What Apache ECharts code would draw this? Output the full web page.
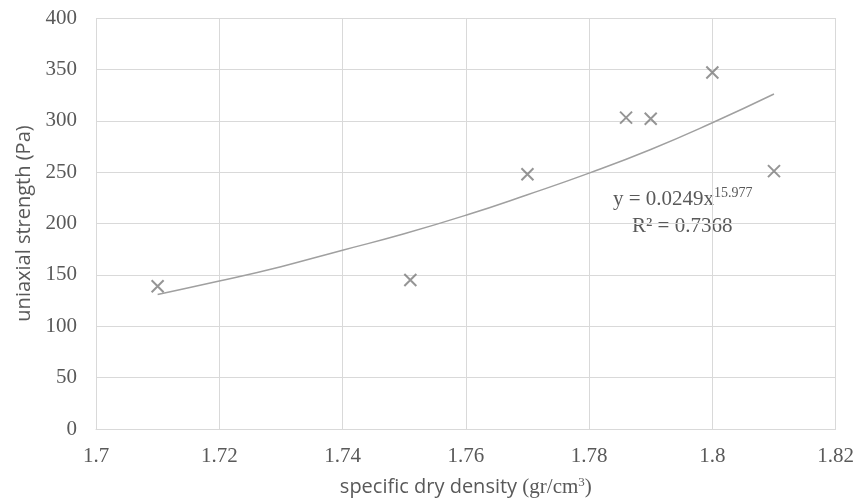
<!DOCTYPE html>
<html>
<head>
<meta charset="utf-8">
<script src="https://cdn.jsdelivr.net/npm/echarts@6/dist/echarts.min.js"></script>
<style>html,body{margin:0;padding:0;background:#fff}#c{width:857px;height:504px}</style>
</head>
<body>
<div id="c"></div>
<script>
const densities = [1.71, 1.751, 1.77, 1.786, 1.79, 1.80, 1.81];
const strengths = [139, 145, 248, 303, 302, 347, 251];
const trendX = [1.71, 1.72, 1.73, 1.74, 1.75, 1.76, 1.77, 1.78, 1.79, 1.80, 1.81];
const trendY = [131, 144, 158, 174, 190, 208, 228, 249, 272, 298, 326];
const equationText = ['y = 0.0249x', '15.977', 'R² = 0.7368'];

const serif = 'Liberation Serif';
const sans = 'Open Sans';
const grey = '#595959';

const chart = echarts.init(document.getElementById('c'));
chart.setOption({
  animation: false,
  backgroundColor: '#fff',
  grid: {left: 96, right: 21, top: 18, bottom: 75},
  xAxis: {
    type: 'value', min: 1.7, max: 1.82, interval: 0.02,
    axisLine: {show: true, lineStyle: {color: '#d9d9d9', width: 1}},
    axisTick: {show: false},
    splitLine: {show: true, lineStyle: {color: '#d9d9d9', width: 1}},
    axisLabel: {color: grey, fontFamily: serif, fontSize: 21, margin: 17,
      formatter: v => String(+v.toFixed(2))},
    name: '{a|specific dry density }{b|(gr/cm}{s|3}{b|)}',
    nameLocation: 'middle', nameGap: 47,
    nameTextStyle: {rich: {
      a: {fontFamily: sans, fontSize: 20, color: grey},
      b: {fontFamily: serif, fontSize: 21, color: grey},
      s: {fontFamily: serif, fontSize: 13, color: grey, verticalAlign: 'top', padding: [0,0,9,0]}
    }}
  },
  yAxis: {
    type: 'value', min: 0, max: 400, interval: 50,
    axisLine: {show: false},
    axisTick: {show: false},
    splitLine: {show: true, lineStyle: {color: '#d9d9d9', width: 1}},
    axisLabel: {color: grey, fontFamily: serif, fontSize: 21, margin: 19},
    name: 'uniaxial strength (Pa)',
    nameLocation: 'middle', nameGap: 62,
    nameTextStyle: {fontFamily: sans, fontSize: 20, color: grey}
  },
  graphic: [{
    type: 'text', left: 613, top: 186,
    style: {
      text: '{a|' + equationText[0] + '}{s|' + equationText[1] + '}\n{c|' + equationText[2] + '}',
      rich: {
        a: {fontFamily: serif, fontSize: 21, fill: grey, lineHeight: 27},
        s: {fontFamily: serif, fontSize: 14, fill: grey, verticalAlign: 'top', lineHeight: 27, padding: [0,0,12,0]},
        c: {fontFamily: serif, fontSize: 21, fill: grey, lineHeight: 27, padding: [0,0,0,19]}
      }
    }
  }],
  series: [
    {
      type: 'line', data: trendX.map((x, i) => [x, trendY[i]]),
      smooth: true, showSymbol: false, symbol: 'none',
      lineStyle: {color: '#a0a0a0', width: 1.5}, z: 2
    },
    {
      type: 'scatter', data: densities.map((x, i) => [x, strengths[i]]),
      symbol: 'path://M0,0L10,10M10,0L0,10', symbolSize: 12,
      itemStyle: {color: 'rgba(0,0,0,0)', borderColor: '#7a7a7a', borderWidth: 2}, z: 3
    }
  ]
});
</script>
</body>
</html>
